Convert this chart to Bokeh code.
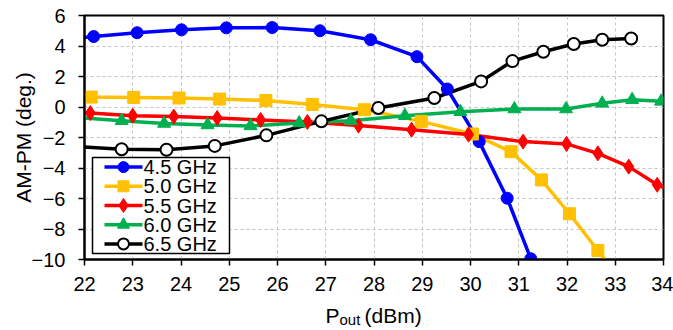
from bokeh.plotting import figure
from bokeh.layouts import column
from bokeh.models import Range1d, FixedTicker, Label
from bokeh.core.properties import value
from bokeh.embed import file_html
from bokeh.resources import INLINE

# Output power (dBm) and AM-PM (deg.) per frequency
x_45 = [21.5, 22.19, 23.09, 24.01, 24.94, 25.89, 26.88, 27.93, 28.89, 29.52, 30.18, 30.76, 31.25]
y_45 = [4.40, 4.62, 4.87, 5.06, 5.19, 5.21, 5.00, 4.41, 3.30, 1.18, -2.27, -5.98, -9.95]

x_50 = [21.3, 22.14, 23.02, 23.96, 24.80, 25.76, 26.72, 27.80, 28.98, 30.04, 30.84, 31.47, 32.05, 32.64, 33.20]
y_50 = [0.68, 0.65, 0.63, 0.59, 0.52, 0.43, 0.17, -0.18, -0.94, -1.77, -2.93, -4.78, -7.00, -9.41, -11.70]

x_55 = [21.3, 22.12, 23.00, 23.85, 24.75, 25.65, 26.62, 27.68, 28.78, 29.96, 31.09, 31.99, 32.64, 33.28, 33.87, 34.50]
y_55 = [-0.30, -0.40, -0.57, -0.63, -0.72, -0.85, -0.98, -1.22, -1.49, -1.81, -2.27, -2.42, -3.04, -3.91, -5.10, -5.90]

x_60 = [21.8, 22.77, 23.65, 24.55, 25.44, 26.45, 27.52, 28.64, 29.79, 30.91, 31.98, 32.73, 33.35, 33.95]
y_60 = [-0.68, -0.90, -1.08, -1.18, -1.24, -1.05, -0.90, -0.57, -0.31, -0.13, -0.13, 0.24, 0.48, 0.37]

x_65 = [21.8, 22.77, 23.70, 24.70, 25.77, 26.91, 28.09, 29.25, 30.22, 30.87, 31.51, 32.14, 32.73, 33.33]
y_65 = [-2.58, -2.77, -2.80, -2.55, -1.86, -0.94, -0.07, 0.59, 1.68, 3.01, 3.62, 4.13, 4.41, 4.49]

labels = ["4.5 GHz", "5.0 GHz", "5.5 GHz", "6.0 GHz", "6.5 GHz"]
x_ticks = list(range(22, 35))
y_ticks = list(range(-10, 7, 2))

FONT = "Liberation Sans"

# plot frame geometry (pixels)
W, H = 673, 300
LEFT, RIGHT, TOP, BOTTOM = 84, 10, 15, 41
X_MIN, X_MAX, Y_MIN, Y_MAX = 22, 34, -10, 6
sx = (W - LEFT - RIGHT) / (X_MAX - X_MIN)
sy = (H - TOP - BOTTOM) / (Y_MAX - Y_MIN)


def px_x(px):
    """canvas pixel column -> data x"""
    return X_MIN + (px - LEFT) / sx


def px_y(py):
    """canvas pixel row -> data y"""
    return Y_MAX - (py - TOP) / sy


p = figure(width=W, height=H, output_backend="svg", toolbar_location=None,
           x_range=Range1d(X_MIN, X_MAX), y_range=Range1d(Y_MIN, Y_MAX),
           min_border_left=LEFT, min_border_right=RIGHT,
           min_border_top=TOP, min_border_bottom=BOTTOM)
p.background_fill_color = "white"
p.border_fill_color = "white"
p.outline_line_color = "black"
p.outline_line_width = 2

# axes
for ax in (p.xaxis[0], p.yaxis[0]):
    ax.axis_line_color = "black"
    ax.axis_line_width = 2
    ax.major_tick_line_color = "black"
    ax.major_tick_line_width = 1.5
    ax.major_tick_out = 6
    ax.major_tick_in = 0
    ax.minor_tick_line_color = None
    ax.major_label_text_font = FONT
    ax.major_label_text_font_size = "20px"
    ax.major_label_text_color = "black"
p.xaxis.ticker = FixedTicker(ticks=x_ticks)
p.yaxis.ticker = FixedTicker(ticks=y_ticks)
p.xaxis.major_label_standoff = 11
p.yaxis.major_label_standoff = 13
p.yaxis.axis_label = "AM-PM (deg.)"
p.yaxis.axis_label_text_font = FONT
p.yaxis.axis_label_text_font_size = "21px"
p.yaxis.axis_label_text_font_style = "normal"
p.yaxis.axis_label_text_color = "black"
p.yaxis.axis_label_standoff = -6

# grid
for g in (p.xgrid[0], p.ygrid[0]):
    g.grid_line_color = "#c4c4c4"
    g.grid_line_dash = "3 3"
    g.grid_line_width = 1

series = [
    (x_45, y_45, "#0000ff", "circle", 12, "#0000ff", "#0000ff"),
    (x_50, y_50, "#ffc000", "square", 12, "#ffc000", "#ffc000"),
    (x_55, y_55, "#ff0000", "diamond", 15, "#ff0000", "#ff0000"),
    (x_60, y_60, "#00b050", "triangle", 13, "#00b050", "#00b050"),
    (x_65, y_65, "#000000", "circle", 12, "white", "black"),
]

# all lines first, then markers on top
for xs, ys, col, *_ in series:
    p.line(xs, ys, line_color=col, line_width=3.5)
for xs, ys, col, mk, sz, fill, edge in series:
    p.scatter(xs, ys, marker=mk, size=sz, fill_color=fill, line_color=edge,
              line_width=2 if fill == "white" else 1)

# legend box in the lower-left corner of the frame
box_l, box_r, box_t, box_b = px_x(92), px_x(229), px_y(157), px_y(253)
p.quad(left=[box_l], right=[box_r], top=[box_t], bottom=[box_b],
       fill_color="white", line_color="black", line_width=1.5)
row_h = (253 - 157) / 5
rows_y = [px_y(157 + row_h * (i + 0.5)) for i in range(len(labels))]
g0, g1, gm, tx = px_x(104), px_x(142), px_x(123), px_x(143)
for (xs, ys, col, mk, sz, fill, edge), ry in zip(series, rows_y):
    p.line([g0, g1], [ry, ry], line_color=col, line_width=3.5)
    p.scatter([gm], [ry], marker=mk, size=sz - 1, fill_color=fill, line_color=edge,
              line_width=2 if fill == "white" else 1)
p.text(x=[tx] * len(labels), y=rows_y, text=labels, text_font=value(FONT),
       text_font_size="20px", text_color="black", text_baseline="middle",
       text_align="left")

# strip below the plot carrying the x-axis title with its subscript
cap = figure(width=W, height=30, output_backend="svg", toolbar_location=None,
             x_range=p.x_range, y_range=Range1d(0, 30), title=None,
             min_border_left=LEFT, min_border_right=RIGHT,
             min_border_top=0, min_border_bottom=0,
             x_axis_type=None, y_axis_type=None)
cap.outline_line_color = None
cap.grid.visible = False
cap.background_fill_color = "white"
cap.border_fill_color = "white"
cap.add_layout(Label(x=px_x(325), y=15, text="P", text_font=FONT, text_font_size="21px",
                     text_color="black", text_baseline="alphabetic", text_align="left"))
cap.add_layout(Label(x=px_x(339), y=11, text="out", text_font=FONT, text_font_size="15px",
                     text_color="black", text_baseline="alphabetic", text_align="left"))
cap.add_layout(Label(x=px_x(364), y=15, text="(dBm)", text_font=FONT, text_font_size="21px",
                     text_color="black", text_baseline="alphabetic", text_align="left"))

page = column(p, cap, spacing=0)
open("out.html", "w").write(file_html(page, INLINE))
